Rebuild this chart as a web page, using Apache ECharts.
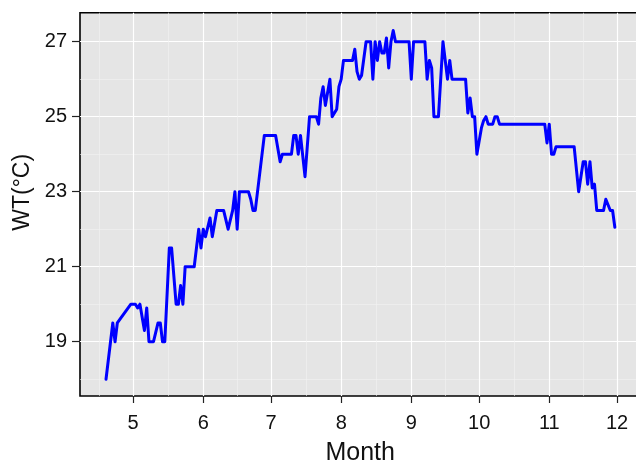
<!DOCTYPE html>
<html>
<head>
<meta charset="utf-8">
<script src="https://cdn.jsdelivr.net/npm/echarts@6/dist/echarts.min.js"></script>
<style>html,body{margin:0;padding:0;background:#fff}#c{width:636px;height:460px}</style>
</head>
<body>
<div id="c"></div>
<script>
// ---- data ----
const dates = [
'2019-04-19','2019-04-22','2019-04-23','2019-04-24','2019-04-30','2019-05-02','2019-05-03','2019-05-04',
'2019-05-06','2019-05-07','2019-05-08','2019-05-10','2019-05-12','2019-05-13','2019-05-14','2019-05-15',
'2019-05-17','2019-05-18','2019-05-20','2019-05-21','2019-05-22','2019-05-23','2019-05-24','2019-05-28',
'2019-05-30','2019-05-31','2019-06-01','2019-06-02','2019-06-04','2019-06-05','2019-06-07','2019-06-10',
'2019-06-12','2019-06-14','2019-06-15','2019-06-16','2019-06-17','2019-06-21','2019-06-22','2019-06-23',
'2019-06-24','2019-06-28','2019-07-03','2019-07-05','2019-07-06','2019-07-10','2019-07-11','2019-07-12',
'2019-07-13','2019-07-14','2019-07-16','2019-07-18','2019-07-21','2019-07-22','2019-07-23','2019-07-24',
'2019-07-25','2019-07-27','2019-07-28','2019-07-30','2019-07-31','2019-08-01','2019-08-02','2019-08-06',
'2019-08-07','2019-08-08','2019-08-09','2019-08-10','2019-08-12','2019-08-14','2019-08-15','2019-08-16',
'2019-08-17','2019-08-18','2019-08-19','2019-08-20','2019-08-21','2019-08-22','2019-08-23','2019-08-24',
'2019-08-25','2019-08-31','2019-09-01','2019-09-02','2019-09-07','2019-09-08','2019-09-09','2019-09-10',
'2019-09-11','2019-09-13','2019-09-15','2019-09-17','2019-09-18','2019-09-19','2019-09-25','2019-09-26',
'2019-09-27','2019-09-28','2019-09-29','2019-09-30','2019-10-02','2019-10-03','2019-10-04','2019-10-05',
'2019-10-07','2019-10-08','2019-10-09','2019-10-10','2019-10-30','2019-10-31','2019-11-01','2019-11-02',
'2019-11-03','2019-11-04','2019-11-12','2019-11-14','2019-11-16','2019-11-17','2019-11-18','2019-11-19',
'2019-11-20','2019-11-21','2019-11-22','2019-11-25','2019-11-26','2019-11-28','2019-11-29','2019-11-30'
];
const wt = [
18.0,19.5,19.0,19.5,20.0,20.0,19.9,20.0,
19.3,19.9,19.0,19.0,19.5,19.5,19.0,19.0,
21.5,21.5,20.0,20.0,20.5,20.0,21.0,21.0,
22.0,21.5,22.0,21.8,22.3,21.8,22.5,22.5,
22.0,22.5,23.0,22.0,23.0,23.0,22.8,22.5,
22.5,24.5,24.5,23.8,24.0,24.0,24.5,24.5,
24.0,24.5,23.4,25.0,25.0,24.8,25.5,25.8,
25.3,26.0,25.0,25.2,25.8,26.0,26.5,26.5,
26.8,26.2,26.0,26.1,27.0,27.0,26.0,27.0,
26.5,27.0,26.7,26.7,27.1,26.3,27.0,27.3,
27.0,27.0,26.0,27.0,27.0,26.0,26.5,26.3,
25.0,25.0,27.0,26.0,26.5,26.0,26.0,25.1,
25.5,25.0,25.0,24.0,24.7,24.9,25.0,24.8,
24.8,25.0,25.0,24.8,24.8,24.3,24.8,24.0,
24.0,24.2,24.2,23.0,23.8,23.8,23.2,23.8,
23.1,23.2,22.5,22.5,22.8,22.5,22.5,22.05
];
const monthTicks = ['2019-05-01','2019-06-01','2019-07-01','2019-08-01','2019-09-01','2019-10-01','2019-11-01','2019-12-01'];
const monthLabels = ['5','6','7','8','9','10','11','12'];
const yTicks = [19, 21, 23, 25, 27];
const yMinor = [18, 20, 22, 24, 26];
const xTitle = 'Month';
const yTitle = 'WT(°C)';

// ---- helpers ----
function ts(s){ const p = s.split('-'); return Date.UTC(+p[0], +p[1]-1, +p[2]); }
const DAY = 86400000;
const base = ts('2019-05-01');
const xMin = base - 23.5 * DAY;
const xMax = base + 224.3 * DAY;
const majorX = monthTicks.map(ts);
const allMajor = [ts('2019-04-01')].concat(majorX);
const minorX = [];
for (let i = 0; i < allMajor.length - 1; i++) minorX.push((allMajor[i] + allMajor[i+1]) / 2);

const seriesData = dates.map((d, i) => [ts(d), wt[i]]);

const font = 'Liberation Sans, Arial, sans-serif';
const chart = echarts.init(document.getElementById('c'), null, {renderer: 'canvas'});
chart.setOption({
  animation: false,
  backgroundColor: '#ffffff',
  grid: {
    left: 80, top: 12.7, width: 560.4, bottom: 64,
    show: true, backgroundColor: '#E5E5E5', borderColor: '#000000', borderWidth: 1.6,
    containLabel: false, outerBoundsMode: 'none'
  },
  xAxis: [{
    type: 'value', min: xMin, max: xMax, position: 'bottom',
    name: xTitle, nameLocation: 'middle', nameGap: 45,
    nameTextStyle: {fontFamily: font, fontSize: 25, color: '#111'},
    axisLine: {show: false},
    axisTick: {show: true, customValues: majorX, length: 7, lineStyle: {color: '#222', width: 1.2}},
    axisLabel: {show: true, customValues: majorX, margin: 17, fontFamily: font, fontSize: 20, color: '#111',
      formatter: v => monthLabels[majorX.indexOf(v)] },
    splitLine: {show: true, lineStyle: {color: '#FFFFFF', width: 1.2}}
  }, {
    type: 'value', min: xMin, max: xMax, position: 'top',
    axisLine: {show: false},
    axisTick: {show: false, customValues: minorX},
    axisLabel: {show: false, customValues: minorX},
    splitLine: {show: true, lineStyle: {color: '#F2F2F2', width: 0.6}}
  }],
  yAxis: [{
    type: 'value', min: 17.552, max: 27.773, position: 'left',
    name: yTitle, nameLocation: 'middle', nameGap: 46, nameRotate: 90,
    nameTextStyle: {fontFamily: font, fontSize: 23, color: '#111', padding: [0, 0, 0, 24]},
    axisLine: {show: false},
    axisTick: {show: true, customValues: yTicks, length: 8, lineStyle: {color: '#222', width: 1.2}},
    axisLabel: {show: true, customValues: yTicks, margin: 13, fontFamily: font, fontSize: 20, color: '#111'},
    splitLine: {show: true, lineStyle: {color: '#FFFFFF', width: 1.2}}
  }, {
    type: 'value', min: 17.552, max: 27.773, position: 'right',
    axisLine: {show: false},
    axisTick: {show: false, customValues: yMinor},
    axisLabel: {show: false, customValues: yMinor},
    splitLine: {show: true, lineStyle: {color: '#F2F2F2', width: 0.6}}
  }],
  series: [{
    type: 'line', xAxisIndex: 0, yAxisIndex: 0,
    data: seriesData, showSymbol: false, symbol: 'none',
    lineStyle: {color: '#0000FF', width: 3, join: 'round', cap: 'round'},
    clip: true
  }]
});
</script>
</body>
</html>
